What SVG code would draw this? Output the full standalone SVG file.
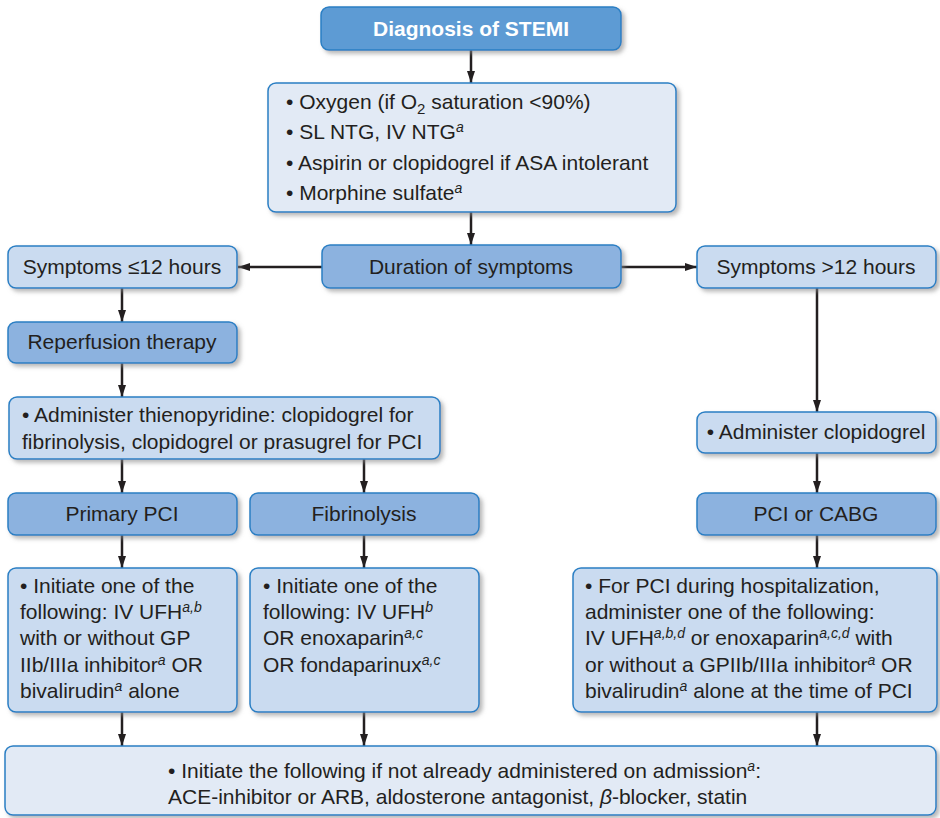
<svg xmlns="http://www.w3.org/2000/svg" width="940" height="818" viewBox="0 0 940 818">
<style>
text{font-family:"Liberation Sans",Arial,sans-serif;font-size:21px;fill:#231f20}
.b{stroke:#2a7fc4;stroke-width:1.5}
.dark{fill:#5d9bd4}
.mid{fill:#8cb2df}
.light{fill:#cadbf0}
.pale{fill:#e2eaf5}
.title{fill:#fff;font-weight:bold}
.c{text-anchor:middle}
.sup{font-size:14px;font-style:italic}
.sub{font-size:15px}
.conn line{stroke:#231f20;stroke-width:2.5;marker-end:url(#ah)}
</style>
<defs>
<filter id="sh" x="-5%" y="-10%" width="115%" height="130%">
<feDropShadow dx="3" dy="3" stdDeviation="2" flood-color="#888" flood-opacity="0.6"/>
</filter>
<marker id="ah" markerUnits="userSpaceOnUse" markerWidth="12" markerHeight="8" refX="12" refY="4" orient="auto">
<path d="M0,0 L12,4 L0,8 z" fill="#231f20"/>
</marker>
</defs>

<g class="conn">
<line x1="471" y1="50" x2="471" y2="83"/>
<line x1="471" y1="212" x2="471" y2="245"/>
<line x1="322" y1="267" x2="238" y2="267"/>
<line x1="621" y1="267" x2="697" y2="267"/>
<line x1="122" y1="288" x2="122" y2="322"/>
<line x1="122" y1="363" x2="122" y2="397"/>
<line x1="122" y1="459" x2="122" y2="493"/>
<line x1="364" y1="459" x2="364" y2="493"/>
<line x1="817" y1="288" x2="817" y2="412"/>
<line x1="817" y1="453" x2="817" y2="493"/>
<line x1="122" y1="535" x2="122" y2="568"/>
<line x1="364" y1="535" x2="364" y2="568"/>
<line x1="817" y1="535" x2="817" y2="568"/>
<line x1="122" y1="712" x2="122" y2="746"/>
<line x1="364" y1="712" x2="364" y2="746"/>
<line x1="817" y1="712" x2="817" y2="746"/>
</g>

<g id="diagnosis">
<rect x="321" y="7" width="300" height="43" rx="8" class="b dark" filter="url(#sh)"/>
<text x="471" y="36" class="c title">Diagnosis of STEMI</text>
</g>

<g id="initial">
<rect x="268" y="83" width="408" height="129" rx="8" class="b pale" filter="url(#sh)"/>
<text x="286" y="109">• Oxygen (if O<tspan class="sub" dy="5">2</tspan><tspan dy="-5"> saturation &lt;90%)</tspan></text>
<text x="286" y="139">• SL NTG, IV NTG<tspan class="sup" dy="-7">a</tspan></text>
<text x="286" y="170">• Aspirin or clopidogrel if ASA intolerant</text>
<text x="286" y="200">• Morphine sulfate<tspan class="sup" dy="-7">a</tspan></text>
</g>

<g id="duration">
<rect x="322" y="245" width="299" height="43" rx="8" class="b mid" filter="url(#sh)"/>
<text x="471" y="274" class="c">Duration of symptoms</text>
</g>

<g id="sym-le12">
<rect x="8" y="246" width="229" height="42" rx="8" class="b light" filter="url(#sh)"/>
<text x="122" y="274" class="c">Symptoms ≤12 hours</text>
</g>

<g id="sym-gt12">
<rect x="697" y="246" width="239" height="42" rx="8" class="b light" filter="url(#sh)"/>
<text x="816" y="274" class="c">Symptoms &gt;12 hours</text>
</g>

<g id="reperfusion">
<rect x="8" y="322" width="229" height="41" rx="8" class="b mid" filter="url(#sh)"/>
<text x="122" y="349" class="c">Reperfusion therapy</text>
</g>

<g id="thienopyridine">
<rect x="9" y="397" width="431" height="62" rx="8" class="b light" filter="url(#sh)"/>
<text x="22" y="422">• Administer thienopyridine: clopidogrel for</text>
<text x="22" y="449">fibrinolysis, clopidogrel or prasugrel for PCI</text>
</g>

<g id="clopidogrel">
<rect x="697" y="412" width="239" height="41" rx="8" class="b light" filter="url(#sh)"/>
<text x="816" y="439" class="c">• Administer clopidogrel</text>
</g>

<g id="primary-pci">
<rect x="8" y="493" width="229" height="42" rx="8" class="b mid" filter="url(#sh)"/>
<text x="122" y="521" class="c">Primary PCI</text>
</g>

<g id="fibrinolysis">
<rect x="250" y="493" width="229" height="42" rx="8" class="b mid" filter="url(#sh)"/>
<text x="364" y="521" class="c">Fibrinolysis</text>
</g>

<g id="pci-cabg">
<rect x="697" y="493" width="239" height="42" rx="8" class="b mid" filter="url(#sh)"/>
<text x="816" y="521" class="c">PCI or CABG</text>
</g>

<g id="pci-anticoag">
<rect x="8" y="568" width="229" height="144" rx="8" class="b light" filter="url(#sh)"/>
<text x="20" y="593">• Initiate one of the</text>
<text x="20" y="619">following: IV UFH<tspan class="sup" dy="-7">a,b</tspan></text>
<text x="20" y="645">with or without GP</text>
<text x="20" y="672">IIb/IIIa inhibitor<tspan class="sup" dy="-7">a</tspan><tspan dy="7"> OR</tspan></text>
<text x="20" y="698">bivalirudin<tspan class="sup" dy="-7">a</tspan><tspan dy="7"> alone</tspan></text>
</g>

<g id="fib-anticoag">
<rect x="250" y="568" width="229" height="144" rx="8" class="b light" filter="url(#sh)"/>
<text x="263" y="593">• Initiate one of the</text>
<text x="263" y="619">following: IV UFH<tspan class="sup" dy="-7">b</tspan></text>
<text x="263" y="645">OR enoxaparin<tspan class="sup" dy="-7">a,c</tspan></text>
<text x="263" y="672">OR fondaparinux<tspan class="sup" dy="-7">a,c</tspan></text>
</g>

<g id="late-anticoag">
<rect x="573" y="568" width="364" height="144" rx="8" class="b light" filter="url(#sh)"/>
<text x="585" y="593">• For PCI during hospitalization,</text>
<text x="585" y="619">administer one of the following:</text>
<text x="585" y="645">IV UFH<tspan class="sup" dy="-7">a,b,d</tspan><tspan dy="7"> or enoxaparin</tspan><tspan class="sup" dy="-7">a,c,d</tspan><tspan dy="7"> with</tspan></text>
<text x="585" y="672">or without a GPIIb/IIIa inhibitor<tspan class="sup" dy="-7">a</tspan><tspan dy="7"> OR</tspan></text>
<text x="585" y="698">bivalirudin<tspan class="sup" dy="-7">a</tspan><tspan dy="7"> alone at the time of PCI</tspan></text>
</g>

<g id="discharge">
<rect x="5" y="746" width="931" height="69" rx="8" class="b pale" filter="url(#sh)"/>
<text x="168" y="778">• Initiate the following if not already administered on admission<tspan class="sup" dy="-7">a</tspan><tspan dy="7">:</tspan></text>
<text x="168" y="804">ACE-inhibitor or ARB, aldosterone antagonist, <tspan font-style="italic">β</tspan>-blocker, statin</text>
</g>
</svg>
